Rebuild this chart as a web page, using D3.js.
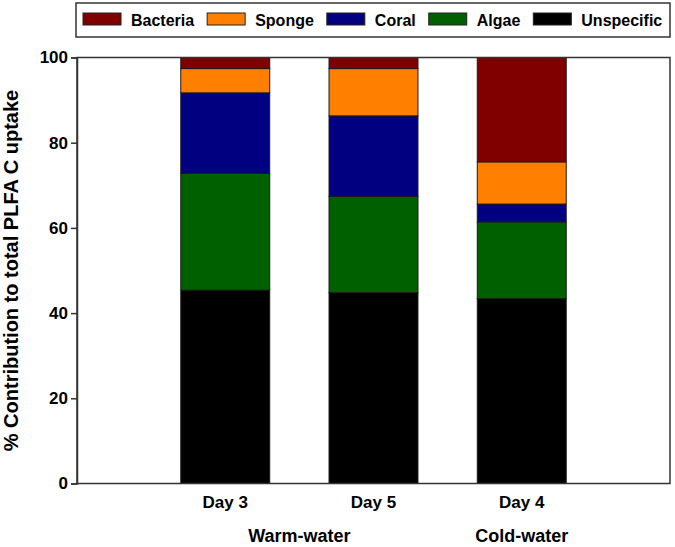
<!DOCTYPE html>
<html>
<head>
<meta charset="utf-8">
<script src="https://cdn.jsdelivr.net/npm/d3@7"></script>
<style>
  html, body { margin: 0; padding: 0; background: #fff; }
  text { font-family: "Liberation Sans", Arial, sans-serif; font-weight: bold; fill: #000; }
</style>
</head>
<body>
<svg id="chart" width="675" height="547"></svg>
<script>
// ---- data ----
const days = ["Day 3", "Day 5", "Day 4"];
const groups = ["Warm-water", "Cold-water"];
const groupSpans = [[0, 1], [2, 2]]; // index range of days in each group
const seriesNames = ["Unspecific", "Algae", "Coral", "Sponge", "Bacteria"];
const unspecific = [45.4, 44.8, 43.4];
const algae = [27.4, 22.6, 18.0];
const coral = [18.9, 18.9, 4.2];
const sponge = [5.7, 11.1, 9.9];
const bacteria = [2.6, 2.6, 24.5];
const legendOrder = ["Bacteria", "Sponge", "Coral", "Algae", "Unspecific"];
const yTicks = [0, 20, 40, 60, 80, 100];
const colors = {
  Bacteria: "#800000",
  Sponge: "#ff8000",
  Coral: "#000080",
  Algae: "#006000",
  Unspecific: "#000000"
};

// ---- layout ----
const svg = d3.select("#chart");
const pL = 77, pR = 670, pT = 57.5, pB = 483.5;

const x = d3.scaleLinear().domain([0, days.length + 1]).range([pL, pR]);
const y = d3.scaleLinear().domain([0, 100]).range([pB, pT]);
const barW = (x(1) - x(0)) * 0.6;

const table = days.map((d, i) => ({
  day: d, Unspecific: unspecific[i], Algae: algae[i], Coral: coral[i],
  Sponge: sponge[i], Bacteria: bacteria[i]
}));
const stacked = d3.stack().keys(seriesNames)(table);

// bars
svg.append("g").selectAll("g").data(stacked).join("g")
  .attr("fill", s => colors[s.key])
  .selectAll("rect").data(s => s.map((v, i) => ({v, i}))).join("rect")
  .attr("x", d => x(d.i + 1) - barW / 2)
  .attr("width", barW)
  .attr("y", d => y(d.v[1]))
  .attr("height", d => y(d.v[0]) - y(d.v[1]))
  .attr("stroke", "#1a1a1a")
  .attr("stroke-width", 1);

// frame
svg.append("rect")
  .attr("x", pL).attr("y", pT)
  .attr("width", pR - pL).attr("height", pB - pT)
  .attr("fill", "none").attr("stroke", "#333").attr("stroke-width", 1.5);

// y axis
const yAxis = svg.append("g").attr("transform", `translate(${pL},0)`)
  .call(d3.axisLeft(y).tickValues(yTicks).tickSize(6).tickPadding(3).tickFormat(d3.format("d")));
yAxis.select(".domain").attr("stroke", "#333").attr("stroke-width", 1.5);
yAxis.selectAll(".tick line").attr("stroke", "#333").attr("stroke-width", 1.5);
yAxis.selectAll(".tick text").style("font-size", "17px").style("font-family", "Liberation Sans, Arial, sans-serif").style("font-weight", "bold").attr("fill", "#000");

// x labels
svg.append("g").selectAll("text").data(days).join("text")
  .attr("x", (d, i) => x(i + 1))
  .attr("y", 508)
  .attr("text-anchor", "middle")
  .style("font-size", "17px")
  .text(d => d);

// group labels
svg.append("g").selectAll("text").data(groups).join("text")
  .attr("x", (d, i) => (x(groupSpans[i][0] + 1) + x(groupSpans[i][1] + 1)) / 2)
  .attr("y", 542)
  .attr("text-anchor", "middle")
  .style("font-size", "18px")
  .text(d => d);

// y title
svg.append("text")
  .attr("transform", `translate(18,${(pT + pB) / 2}) rotate(-90)`)
  .attr("text-anchor", "middle")
  .style("font-size", "20px")
  .text("% Contribution to total PLFA C uptake");

// legend
const legend = svg.append("g");
legend.append("rect")
  .attr("x", 76).attr("y", 3).attr("width", 594).attr("height", 34)
  .attr("fill", "#fff").attr("stroke", "#333").attr("stroke-width", 1.5);
let cx = 83;
legendOrder.forEach(name => {
  legend.append("rect")
    .attr("x", cx).attr("y", 13).attr("width", 38).attr("height", 12)
    .attr("fill", colors[name]).attr("stroke", "#222").attr("stroke-width", 1);
  const t = legend.append("text")
    .attr("x", cx + 48).attr("y", 25.5)
    .style("font-size", "16px")
    .text(name);
  cx += 48 + t.node().getComputedTextLength() + 13;
});
</script>
</body>
</html>
